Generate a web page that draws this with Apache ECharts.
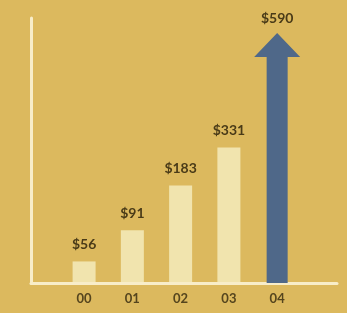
<!DOCTYPE html>
<html>
<head>
<meta charset="utf-8">
<script src="https://cdn.jsdelivr.net/npm/echarts@6/dist/echarts.min.js"></script>
<style>
  html, body { margin: 0; padding: 0; background: #dcb95e; }
  #main { width: 347px; height: 313px; }
</style>
</head>
<body>
<div id="main"></div>
<script>
// data
var categories = ['00', '01', '02', '03', '04'];
var values = [56, 91, 183, 331, 590];
var valueLabels = ['$56', '$91', '$183', '$331', '$590'];
var arrowIndex = 4; // last year drawn as an arrow

var yMin = 40;
var yMax = 2500;
var arrowStretch = 1.45; // arrow is drawn longer than its value, like the original

var chart = echarts.init(document.getElementById('main'));

var option = {
  backgroundColor: '#dcb95e',
  animation: false,
  grid: { left: 31, right: 10, top: 18, bottom: 30 },
  xAxis: {
    type: 'value',
    min: -1.1,
    max: 5.24,
    axisLine: { show: true, onZero: false, lineStyle: { color: '#f8edc9', width: 3 } },
    axisTick: { show: false },
    splitLine: { show: false },
    axisLabel: {
      customValues: [0, 1, 2, 3, 4],
      formatter: function (v) { return categories[v]; },
      color: '#55451e',
      fontFamily: 'Lato',
      fontWeight: 'bold',
      fontSize: 13,
      margin: 9
    }
  },
  yAxis: {
    type: 'log',
    logBase: 10,
    min: yMin,
    max: yMax,
    axisLine: { show: true, onZero: false, lineStyle: { color: '#f8edc9', width: 3 } },
    axisTick: { show: false },
    axisLabel: { show: false },
    splitLine: { show: false }
  },
  series: [{
    type: 'custom',
    data: values.map(function (v, i) { return [i, v]; }),
    renderItem: function (params, api) {
      var i = params.dataIndex;
      var top = api.coord([api.value(0), api.value(1)]);
      var base = api.coord([api.value(0), yMin]);
      var cx = top[0];
      var labelStyle = {
        text: valueLabels[i],
        fill: '#4a3b18',
        font: 'bold 14px Lato',
        align: 'center',
        verticalAlign: 'bottom'
      };
      if (i === arrowIndex) {
        var len = (base[1] - top[1]) * arrowStretch;
        var tipY = base[1] - len;
        var headH = 24, headW = 46, shaftW = 21;
        var neckY = tipY + headH;
        return {
          type: 'group',
          children: [{
            type: 'polygon',
            shape: {
              points: [
                [cx - shaftW / 2, base[1]],
                [cx - shaftW / 2, neckY],
                [cx - headW / 2, neckY],
                [cx, tipY],
                [cx + headW / 2, neckY],
                [cx + shaftW / 2, neckY],
                [cx + shaftW / 2, base[1]]
              ]
            },
            style: { fill: '#4f6889' }
          }, {
            type: 'text',
            x: cx,
            y: tipY - 7,
            style: labelStyle
          }]
        };
      }
      var w = 23;
      return {
        type: 'group',
        children: [{
          type: 'rect',
          shape: { x: cx - w / 2, y: top[1], width: w, height: base[1] - top[1] - 1 },
          style: { fill: '#f1e4ae' }
        }, {
          type: 'text',
          x: cx,
          y: top[1] - 10,
          style: labelStyle
        }]
      };
    }
  }]
};

chart.setOption(option);
</script>
</body>
</html>
